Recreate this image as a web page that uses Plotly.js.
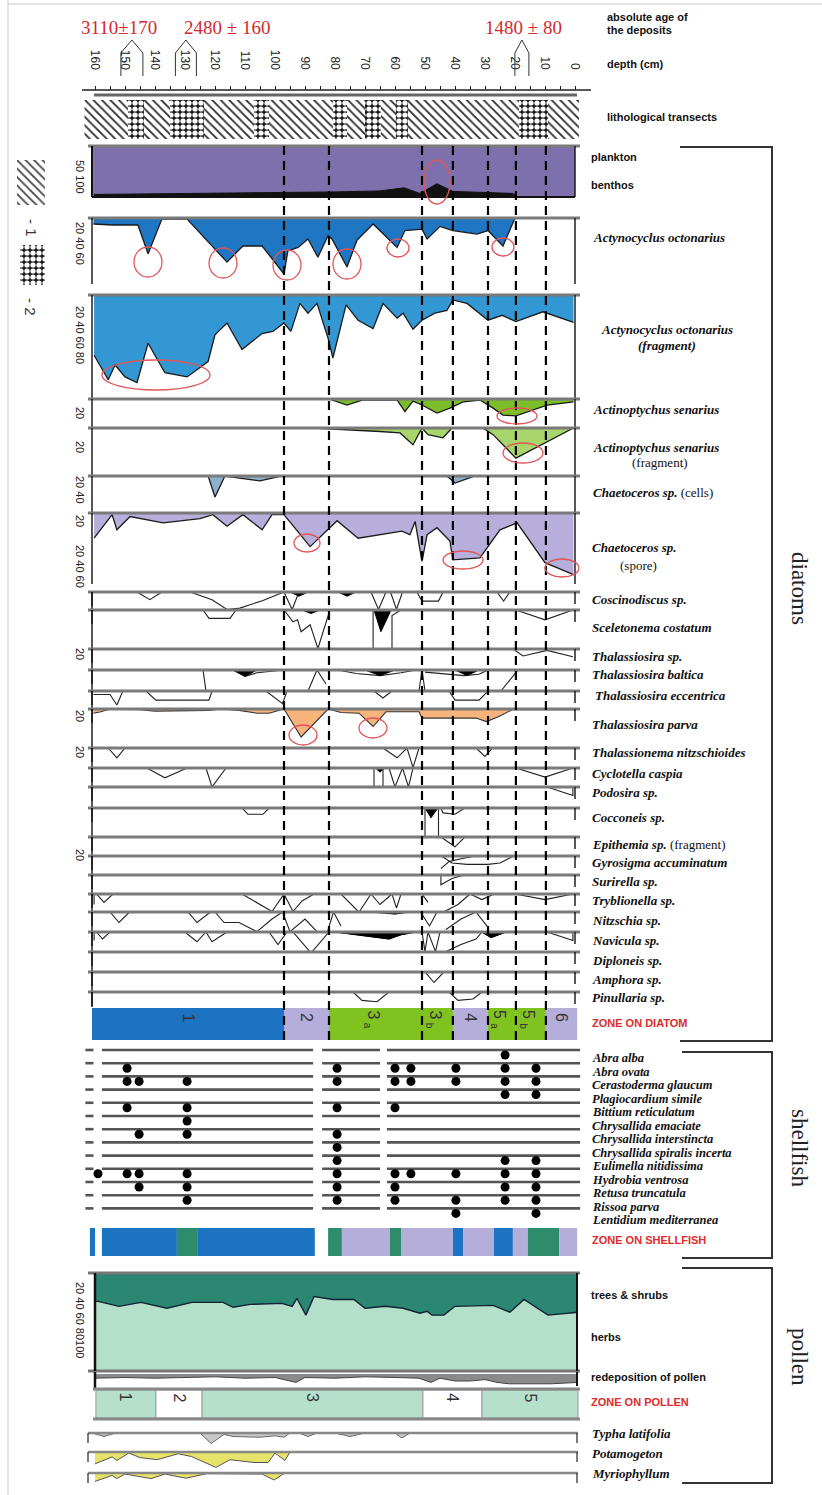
<!DOCTYPE html>
<html><head><meta charset="utf-8">
<script src="https://cdn.plot.ly/plotly-3.0.1.min.js"></script>
<style>html,body{margin:0;padding:0;background:#fff}#chart{width:822px;height:1495px}</style>
</head><body><div id="chart"></div>
<script>
// ================= DATA =================
const depthLabels = [160,150,140,130,120,110,100,90,80,70,60,50,40,30,20,10,0];
const depthMinor = [155,145,135,125,115,105,95,85,75,65,55,45,35,25,15,5];
const ageLabels = ['3110±170','2480 ± 160','1480 ± 80'];
const ageDepths = [147.7, 129.7, 17.7];
const lithoStart = [163.5];
const lithoEnd = [-1.3];
const gravelStart = [149, 135, 107, 80.7, 70, 59.7, 18.7];
const gravelEnd = [143.7, 123.7, 102, 76, 64.7, 55.7, 9];

const benthos_d = [160.5,145,131.7,115,98,80,65,57,51.7,46,40.7,31.7,20.7,19.3,0];
const benthos_v = [5,6,7,7,8,10,12,18,7,26,11,9,7,0,0];

const actyn_d = [160.5,154,145.7,142.3,137.7,129.3,116,110.7,104.3,97,95.7,92.3,89,85.7,82.3,81,76,72.7,67.3,59.3,56.7,51,49.3,45,40.7,32.7,29,24,20];
const actyn_v = [8.6,10,10,51,1.5,1.5,63,40,40,80,47,42,30,56,25,30,70,32,8.6,42,18,16,30,12,18,23,18,40,0];

const actynF_d = [160.3,155.6,153.3,150,146,142.3,136.7,129.3,122.3,120,116,111,104.3,100.7,97,94.7,91.7,89,86,82.3,80.7,76.3,72.3,67.3,64,59.3,57.3,54,51,46.7,42.7,40.7,36,29,24.3,19.7,10.7,0.5];
const actynF_v = [86,121,100,117,125,69,111,117,95,57,40,78,55,52,40,52,12,26,12,62,90,14,36,48,12,33,26,49,36,26,22,7,12,36,29,38,24,39];

const actSen_d = [82,76,70.7,59.3,56.7,54,51,46,41.7,37.3,31.7,27.3,24,19.7,9.3,0.5];
const actSen_v = [0,8.6,1.4,1.4,18,3,8.6,20,13,4,1.4,13,23,24,8.6,4];

const actSenF_d = [87.3,82,65,58.3,54,51,49,44,41,30.7,27.3,19.7,0.5];
const actSenF_v = [0,1,5,7,24,0,9.5,14,0,0,9.5,43,0];

const chaetC_d = [122.3,120,116.7,112,105,98,42.7,40,34];
const chaetC_v = [0,30,0,3,7,0,0,10,1];

const chaetS_d = [160.3,154.3,152.7,148.3,137.3,125,120.7,116,110.7,104.3,101,97,88.3,82.3,79.3,72.3,65,57.7,55,53.3,51,49.3,46,41.7,40.7,31.7,25,19.3,10,0.5];
const chaetS_v = [36,2.4,24,5,14,8,2.4,19,2.4,24,2.4,2.4,48,24,11,36,31,26,31,12,69,31,21,40,67,64,24,14,71,88];

const cosc_d = [146,141.7,137.7,null,128.3,121,116,111.7,104,97,94.3,92,null,68,65.5,63,61.5,59.5,57.5,null,52.7,51,45.5,44,null,26,23.8,21.7];
const cosc_v = [0,11,0,null,0,11,25,23,12,0,25,0,null,0,25,0,0,25,0,null,0,13,13,0,null,0,13,0];
const cosc_bd = [95,92,89,null,79,76,73];
const cosc_bv = [0,6,0,null,0,6,0];

const scel_d = [124,122,115,113,null,97,94,92.5,91.3,88.3,85.7,81.7,null,67.3,67.3,null,61,61,58,null,19.7,10,0.7];
const scel_v = [0,12,12,0,null,0,17,14,31,21,55,0,null,0,55,null,55,8,0,null,0,14,0];
const scel_bd = [91,88,85,null,67,64.7,61.3];
const scel_bv = [0,5,0,null,0,31,0];

const thsp_d = [20.7,17.3,9.3,0.7];
const thsp_v = [0,10,2,11];

const thba_d = [124,123,null,114,110,106,100,97,null,89,86,83,null,79,73,65,58,53,null,52,51,50,null,50,43,37,32,29,null,24.7,20.7,19];
const thba_v = [0,30,null,0,9,4,2,0,null,30,0,20,null,0,5,8,4,0,null,30,0,30,null,3,6,8,6,0,null,30,8,0];
const thba_bd = [114,110,106,null,70,65,60,null,40,36,32];
const thba_bv = [0,9,0,null,0,8,0,null,0,8,0];

const thec_d = [160.5,155,152.7,150.7,null,143,139.7,122,121,null,103,97.5,96,null,67,64,61,null,42,40,32,29];
const thec_v = [5,5,20,0,null,0,13,13,0,null,0,18,0,null,0,10,0,null,0,13,13,0];

const thpa_d = [160.5,158,155,145,140,130,122,118,112,106,102,97,91.3,82.3,78,72,67.3,63,58,52,51,45,40,33,29.5,25,21,15,5,0];
const thpa_v = [6,4,0,1,3,3,2,0,2,6,6,0,40,0,5,6,25,4,4,4,13,13,13,13,18,10,1,1,1,1];

const thne_d = [155.6,152.7,150,null,64,59.3,56,54,52,null,33,30,27.5];
const thne_v = [0,14,0,null,0,14,0,28,0,null,0,12,0];

const cycl_d = [142.7,136.7,129.3,null,123,121,116.3,null,67,67,null,64,64,null,62,60,57.5,55.5,54,null,19.7,10,0.7];
const cycl_v = [0,14,0,null,0,27,0,null,0,27,null,0,27,null,0,27,0,27,0,null,0,13,0];
const cycl_bd = [66.5,65,63.5];
const cycl_bv = [0,6,0];

const podo_d = [9.3,0.7,0.7,9.3];
const podo_v = [0,12,0,0];

const cocc_d = [111,109,104,102,null,50,50,null,45.5,45.5,null,44.7,44,40,36.7];
const cocc_v = [0,9,9,0,null,0,41,null,41,0,null,0,7,9,0];
const cocc_bd = [50,48,45.7];
const cocc_bv = [0,14,0];

const epit_d = [44.7,40,36.7];
const epit_v = [0,14,0];

const gyro_d = [44.7,42,38,33,null,44.5,41,36,29,25,20.5];
const gyro_v = [18,8,4,0,null,0,10,12,12,10,0];

const suri_d = [44.7,44.7,41,37];
const suri_v = [0,14,5,0];

const tryb_d = [160.3,160.3,null,159.5,157,154,null,111,106,101,97,94,91,87,null,78,72,68,65,61,59.5,58,56,null,51,49,null,43.5,39,35,31,27,null,20,10,0.7];
const tryb_v = [0,15,null,0,12,0,null,0,12,25,0,25,10,0,null,0,26,0,15,0,20,0,0,null,0,12,null,25,15,0,8,0,null,0,8,0];

const nitz_d = [155,152,148.5,null,129,126,121.5,120,117,112,106,101,97.5,95,90,86,null,82.5,80.5,78,null,51.5,48.5,46,null,43,38,33,29];
const nitz_v = [0,15,0,null,0,15,0,0,15,15,28,10,0,28,10,28,null,28,0,20,null,0,20,0,null,25,10,0,22];
const nitz_bd = [68,60,55];
const nitz_bv = [0,3,0];

const navi_d = [160.3,160.3,null,159.5,157.5,155,null,130,126,123,121,116,null,102,99,96,94,88,82,null,80,70,62,58,53,null,51,50,49,46.5,45,null,43,38,33,31,28,23,null,9.3,0.7,0.7];
const navi_v = [0,12,null,0,10,0,null,0,14,0,14,0,null,0,18,0,0,30,0,null,0,5,10,4,0,null,0,28,0,28,0,null,28,18,10,0,8,0,null,0,12,0];
const navi_bd = [80,70,62,58,53,null,31,28,23];
const navi_bv = [0,5,10,4,0,null,0,8,0];

const dipl_d = [];
const dipl_v = [];

const amph_d = [50,47,43.7];
const amph_v = [0,15,0];

const pinu_d = [74,71,66,62,null,42,39,34,31];
const pinu_v = [0,12,14,0,null,0,12,10,0];

const diatomZoneBounds = [161,97,82,51,40.7,29,19.7,9.7,-0.7];
const diatomZoneLabels = ['1','2','3a','3b','4','5a','5b','6'];
const diatomZoneClass = ['A','B','C','C','B','C','C','B'];
const diatomZoneLines = [97,82,51,40.7,29,19.7,9.7];

const shellSpecies = ['Abra alba','Abra ovata','Cerastoderma glaucum','Plagiocardium simile','Bittium reticulatum','Chrysallida emaciate','Chrysallida interstincta','Chrysallida spiralis incerta','Eulimella nitidissima','Hydrobia ventrosa','Retusa truncatula','Rissoa parva','Lentidium mediterranea'];
const shellDots = [
  [23.3],
  [149.3,79.3,60,54.7,39.7,23.3,13],
  [149.3,145.3,129.3,79.3,60,54.7,39.7,23.3,13],
  [23.3,13],
  [149.3,129.3,79.3,60],
  [129.3],
  [145.3,129.3,79.3],
  [79.3],
  [79.3,23.3,13],
  [159,149.3,145.3,129.3,79.3,60,54.7,39.7,23.3,13],
  [145.3,129.3,79.3,60,23.3,13],
  [129.3,79.3,60,39.7,23.3,13],
  [39.7,13]
];
const shellZoneBounds = [161.7,160,157.7,132.7,125.7,86.7,82.3,77.7,61.7,58,40.7,37.3,27,20.7,15.7,5.3,-0.7];
const shellZoneClass = ['A','-','A','G','A','-','G','B','G','B','A','B','A','B','G','B'];

const trees_d = [159.7,159,152,144.7,136,127.7,117.3,114,108.3,97.7,94.3,92.7,89.7,87,80.7,73.7,70,63.3,57.3,51.7,49.3,47.7,43.7,40,27.3,21.7,17,9,-1];
const trees_v = [29,29,34,30,36,30,30,35,32,31,34,26,43,24,27,27,36,34,36,41,39,43,43,34,33,40,27,43,40];
const herbsTotal = 100;

const redep_d = [160,150,140,130,120,110,100,93,90,80,70,60,52,48,45,40,35,30,26,22,15,8,-1];
const redep_v = [6,5,6,5,4,6,5,12,5,6,4,5,6,12,6,10,10,8,12,14,14,14,12];

const pollenZoneBounds = [159.7,139.7,124.3,50.7,31,-1];
const pollenZoneLabels = ['1','2','3','4','5'];
const pollenZoneClass = ['M','W','M','W','M'];

const typha_d = [161,157,153,125,121.3,117,114,105,100,97,95,92,89,86,80,75,70,60,57.7,55,0];
const typha_v = [0,5,0,0,15,2,5,6,4,6,0,0,5,0,0,5,0,0,7,0,0];
const potamo_d = [160,154.3,152.7,148.7,145,139.3,132.3,127.8,119.7,115,107,102.3,100,96.7,95];
const potamo_v = [17,7,12,1.5,8,11,2.5,6.5,22,11,15,15,1.5,12,0];
const myrio_d = [160,154.3,152.7,150,141.3,136.7,129.7,122.7,104.3,100.3,96.7];
const myrio_v = [12,3.5,8,1.5,8,1.5,7.4,1,1.5,10,0];

// ================= LAYOUT / DRAWING =================
const W = 822, H = 1495;
const X = x => x / W;
const Y = y => 1 - y / H;
const dx = d => 575 - 3 * d;
const SANS = 'Liberation Sans, Arial, sans-serif';
const SERIF = 'Liberation Serif, Times New Roman, serif';
const PXU = 0.7; // pixels per unit for diatom panels

const traces = [], shapes = [], ann = [];
const layout = {
  width: W, height: H, margin: {l:0, r:0, t:0, b:0},
  paper_bgcolor: '#fff', plot_bgcolor: 'rgba(0,0,0,0)',
  showlegend: false, barmode: 'overlay',
  xaxis: {
    domain: [0,1], range: [575/3, (575-W)/3], anchor: 'free', position: Y(90), side: 'top',
    tickmode: 'array',
    tickvals: depthLabels,
    ticktext: depthLabels.map(String),
    minor: {tickmode: 'array', tickvals: depthMinor, ticks: 'outside', ticklen: 4, tickcolor: '#222', showgrid: false},
    tickangle: 90, ticks: 'outside', ticklen: 4, tickcolor: '#222', tickwidth: 1,
    ticklabelstandoff: 12,
    tickfont: {family: SANS, size: 12, color: '#222'},
    showline: false, showgrid: false, zeroline: false, fixedrange: true
  },
  yaxis: {domain: [Y(139), Y(100)], range: [0,1], visible: false, anchor: 'free', position: 0, fixedrange: true}
};

let axCount = 1;
function addAxis(top, bottom, range) {
  axCount++;
  layout['yaxis' + axCount] = {domain: [Y(bottom), Y(top)], range: range, anchor: 'free', position: 0,
    visible: false, showgrid: false, zeroline: false, fixedrange: true};
  return 'y' + axCount;
}
function hline(y, x0, x1, color, width, dash) {
  shapes.push({type:'line', xref:'paper', yref:'paper', x0:X(x0), x1:X(x1), y0:Y(y), y1:Y(y),
    line:{color:color, width:width, dash:dash||'solid'}, layer:'above'});
}
function vline(x, y0, y1, color, width, dash) {
  shapes.push({type:'line', xref:'paper', yref:'paper', x0:X(x), x1:X(x), y0:Y(y0), y1:Y(y1),
    line:{color:color, width:width, dash:dash||'solid'}, layer:'above'});
}
function poly(pts, color, width, closed) {
  let p = pts.map((q,i) => (i ? 'L' : 'M') + X(q[0]).toFixed(5) + ',' + Y(q[1]).toFixed(5)).join(' ');
  if (closed) p += ' Z';
  shapes.push({type:'path', xref:'paper', yref:'paper', path:p, line:{color:color, width:width}, layer:'above'});
}
function ell(cx, cy, rx, ry) {
  shapes.push({type:'circle', xref:'paper', yref:'paper', x0:X(cx-rx), x1:X(cx+rx), y0:Y(cy+ry), y1:Y(cy-ry),
    line:{color:'#e0555a', width:1.3}, layer:'above'});
}
function text(str, x, y, o) {
  ann.push(Object.assign({xref:'paper', yref:'paper', x:X(x), y:Y(y), text:str, showarrow:false,
    xanchor:'left', yanchor:'middle', font:{family:SANS, size:11, color:'#111'}}, o || {}));
}
function area(yax, d, v, fillc, lc, lw, fillmode) {
  traces.push({type:'scatter', mode:'lines', x:d, y:v, xaxis:'x', yaxis:yax,
    fill: fillmode || (fillc ? 'tozeroy' : 'none'), fillcolor: fillc || 'rgba(0,0,0,0)',
    line:{color: lc || '#111', width: lw == null ? 1.2 : lw}, connectgaps:false, hoverinfo:'skip'});
}

// ---------- header ----------
const ageBoxHalf = [11, 10.5, 7];
const ageTextX = [119, 227, 523];
ageDepths.forEach((d, i) => {
  const cx = dx(d), hw = ageBoxHalf[i];
  poly([[cx-hw,76],[cx-hw,53],[cx,40],[cx+hw,53],[cx+hw,76]], '#333', 1, false);
  text(ageLabels[i], ageTextX[i], 28, {xanchor:'center', font:{family:SERIF, size:19, color:'#d42a2f'}});
});
text('<b>absolute age of</b>', 605, 17);
text('<b>the deposits</b>', 605, 30);
text('<b>depth (cm)</b>', 605, 64);
text('<b>lithological transects</b>', 605, 117);
hline(90, 82, 591, '#222', 1.3);
hline(95, 94, 577, '#666', 3);

// lithology bars (patterned)
traces.push({type:'bar', orientation:'h', y:[0.5], base:lithoStart, x:lithoEnd.map((e,i)=>e-lithoStart[i]), width:1,
  xaxis:'x', yaxis:'y', marker:{color:'#fff', line:{width:0},
  pattern:{shape:'\\', fgcolor:'#2a2a2a', bgcolor:'#fff', size:6, solidity:0.3}}, hoverinfo:'skip'});
traces.push({type:'bar', orientation:'h', y:gravelStart.map(()=>0.5), base:gravelStart, x:gravelEnd.map((e,i)=>e-gravelStart[i]), width:1,
  xaxis:'x', yaxis:'y', marker:{color:'#222', line:{width:0},
  pattern:{shape:'.', fgcolor:'#fff', bgcolor:'#1a1a1a', size:6, solidity:0.6}}, hoverinfo:'skip'});

// legend boxes
const yLeg = addAxis(160, 285, [125, 0]);
traces.push({type:'bar', orientation:'h', y:[22.5], base:[186], x:[-9.3], width:[45], xaxis:'x', yaxis:yLeg,
  marker:{color:'#fff', line:{width:0}, pattern:{shape:'\\', fgcolor:'#444', bgcolor:'#fff', size:6, solidity:0.3}}, hoverinfo:'skip'});
traces.push({type:'bar', orientation:'h', y:[105], base:[185], x:[-8.3], width:[40], xaxis:'x', yaxis:yLeg,
  marker:{color:'#222', line:{width:0}, pattern:{shape:'.', fgcolor:'#fff', bgcolor:'#1a1a1a', size:6, solidity:0.6}}, hoverinfo:'skip'});
text('- 1', 31, 228, {xanchor:'center', textangle:90, font:{family:SANS, size:15, color:'#333'}});
text('- 2', 31, 307, {xanchor:'center', textangle:90, font:{family:SANS, size:15, color:'#333'}});

// frame
vline(8, 0, 1495, '#c8c8c8', 1);
hline(4, 8, 822, '#c8c8c8', 1);

// ---------- diatom panels ----------
function panelFrame(top, bottom, full) {
  hline(top, 88, 580, '#7a7a7a', 3);
  vline(92, top, bottom, '#111', 1.4);
  vline(575, top, full ? bottom : Math.min(bottom, top + 12), '#111', 1.4);
}

// plankton / benthos
const yPl = addAxis(146, 197, [100, 0]);
area(yPl, benthos_d, benthos_d.map(() => 100), '#111', '#111', 0.5);
area(yPl, benthos_d, benthos_v.map(v => 100 - v), '#7d70ac', '#111', 1);
panelFrame(146, 197, true);
hline(197, 92, 575, '#111', 2);
vline(92, 146, 197, '#111', 2);

const filled = [
  {d:actyn_d, v:actyn_v, top:218, bottom:284, c:'#1f76c2'},
  {d:actynF_d, v:actynF_v, top:295, bottom:398, c:'#3397d3'},
  {d:actSen_d, v:actSen_v, top:399, bottom:427, c:'#7cbd2a'},
  {d:actSenF_d, v:actSenF_v, top:428, bottom:475, c:'#a8d66c'},
  {d:chaetC_d, v:chaetC_v, top:476, bottom:512, c:'#8db1cb'},
  {d:chaetS_d, v:chaetS_v, top:513, bottom:584, c:'#b7aedc'}
];
filled.forEach(p => {
  const ya = addAxis(p.top, p.bottom, [(p.bottom - p.top) / PXU, 0]);
  area(ya, p.d, p.v, p.c, '#1a1a1a', 1.3);
  panelFrame(p.top, p.bottom, true);
});

const linePanels = [
  {d:cosc_d, v:cosc_v, bd:cosc_bd, bv:cosc_bv, top:592, bottom:610},
  {d:scel_d, v:scel_v, bd:scel_bd, bv:scel_bv, top:610, bottom:649},
  {d:thsp_d, v:thsp_v, top:649, bottom:670},
  {d:thba_d, v:thba_v, bd:thba_bd, bv:thba_bv, top:670, bottom:691},
  {d:thec_d, v:thec_v, top:691, bottom:709},
  {d:thpa_d, v:thpa_v, top:709, bottom:748, fill:'#f6b37c'},
  {d:thne_d, v:thne_v, top:748, bottom:768},
  {d:cycl_d, v:cycl_v, bd:cycl_bd, bv:cycl_bv, top:768, bottom:787},
  {d:podo_d, v:podo_v, top:787, bottom:808},
  {d:cocc_d, v:cocc_v, bd:cocc_bd, bv:cocc_bv, top:808, bottom:837},
  {d:epit_d, v:epit_v, top:837, bottom:856},
  {d:gyro_d, v:gyro_v, top:856, bottom:875},
  {d:suri_d, v:suri_v, top:875, bottom:894},
  {d:tryb_d, v:tryb_v, top:894, bottom:912},
  {d:nitz_d, v:nitz_v, bd:nitz_bd, bv:nitz_bv, top:912, bottom:932},
  {d:navi_d, v:navi_v, bd:navi_bd, bv:navi_bv, top:932, bottom:952},
  {d:dipl_d, v:dipl_v, top:952, bottom:972},
  {d:amph_d, v:amph_v, top:972, bottom:992},
  {d:pinu_d, v:pinu_v, top:992, bottom:1007}
];
linePanels.forEach(p => {
  const ya = addAxis(p.top, p.bottom, [(p.bottom - p.top) / PXU, 0]);
  if (p.fill) area(ya, p.d, p.v, p.fill, '#333', 1.1);
  else if (p.d.length) area(ya, p.d, p.v, null, '#222', 1.1);
  if (p.bd) area(ya, p.bd, p.bv, '#000', '#000', 1);
  panelFrame(p.top, p.bottom, false);
  vline(92, p.top, Math.min(p.bottom, p.top + 14), '#111', 1.4);
});

// diatom zone bar
const yDZ = addAxis(1008, 1040, [1, 0]);
const zoneColor = {A:'#1b73c2', B:'#b5aedb', C:'#80c21f', G:'#2e8b6b', M:'#b6e0cb', W:'#ffffff', '-':'#ffffff'};
traces.push({type:'bar', orientation:'h', xaxis:'x', yaxis:yDZ,
  y: diatomZoneLabels.map(() => 0.5), width: 1,
  base: diatomZoneBounds.slice(0, -1),
  x: diatomZoneBounds.slice(1).map((b, i) => b - diatomZoneBounds[i]),
  marker: {color: diatomZoneClass.map(c => zoneColor[c]), line:{width:0}}, hoverinfo:'skip'});
diatomZoneLabels.forEach((l, i) => {
  const mid = (diatomZoneBounds[i] + diatomZoneBounds[i+1]) / 2;
  const main = l.charAt(0), suf = l.slice(1);
  ann.push({xref:'x', yref:'paper', x: suf ? mid + 0.8 : mid, y:Y(suf ? 1021 : 1024),
    text:main, showarrow:false, textangle:90, font:{family:SANS, size:16, color:'#333'}});
  if (suf) {
    ann.push({xref:'x', yref:'paper', x: mid + 2.4, y:Y(1031),
      text:suf, showarrow:false, textangle:90, font:{family:SANS, size:10, color:'#333'}});
  }
});

// dashed zone boundaries
diatomZoneLines.forEach(d => {
  shapes.push({type:'line', xref:'x', yref:'paper', x0:d, x1:d, y0:Y(146), y1:Y(1040),
    line:{color:'#000', width:2.2, dash:'9px,6px'}, layer:'above'});
});

// red circles
[[437,182,13,22],[148,262,14,15],[223,263,14,15],[287,265,14,15],[347,264,14,15],[398,248,11,9],[503,247,11,9],
 [156,375,54,15],[517,416,20,8],[523,453,20,10],[307,543,13,9],[463,560,20,9],[562,568,17,9],[303,735,14,10],[373,728,14,10]]
 .forEach(c => ell(c[0], c[1], c[2], c[3]));

// left scale labels
[['50 100',177],['20 40 60',243],['20 40 60 80',335],['20',413],['20',447],['20 40',490],['20',521],['20 40 60',566],
 ['20',654],['20',716],['20',752],['20',855]]
 .forEach(t => text(t[0], 80, t[1], {xanchor:'center', textangle:90, font:{family:SANS, size:11, color:'#222'}}));

// ---------- right labels ----------
const BI = s => '<b><i>' + s + '</i></b>';
const fSerif = {family:SERIF, size:13, color:'#111'};
text('<b>plankton</b>', 589, 157);
text('<b>benthos</b>', 589, 185);
text(BI('Actynocyclus octonarius'), 591, 238, {font:fSerif});
text(BI('Actynocyclus octonarius'), 667, 330, {xanchor:'center', font:fSerif});
text(BI('(fragment)'), 667, 345, {xanchor:'center', font:fSerif});
text(BI('Actinoptychus senarius'), 591, 409, {font:fSerif});
text(BI('Actinoptychus senarius'), 591, 448, {font:fSerif});
text('(fragment)', 660, 463, {xanchor:'center', font:fSerif});
text(BI('Chaetoceros sp.') + ' (cells)', 591, 492, {font:fSerif});
text(BI('Chaetoceros sp.'), 590, 548, {font:fSerif});
text('(spore)', 638, 565, {xanchor:'center', font:fSerif});

const diatomNames = ['Coscinodiscus sp.','Sceletonema costatum','Thalassiosira sp.','Thalassiosira baltica','Thalassiosira eccentrica',
  'Thalassiosira parva','Thalassionema nitzschioides','Cyclotella caspia','Podosira sp.','Cocconeis sp.','Epithemia sp.',
  'Gyrosigma accuminatum','Surirella sp.','Tryblionella sp.','Nitzschia sp.','Navicula sp.','Diploneis sp.','Amphora sp.','Pinullaria sp.'];
const diatomNameY = [599,627,656,675,695,724,753,773,792,817,844,862,881,901,921,940,960,979,998];
diatomNames.forEach((n, i) => {
  const s = n === 'Epithemia sp.' ? BI(n) + ' (fragment)' : BI(n);
  text(s, n === 'Thalassiosira eccentrica' ? 593 : 590, diatomNameY[i], {font:fSerif});
});
text('<b>ZONE ON DIATOM</b>', 590, 1023, {font:{family:SANS, size:11, color:'#e02b2b'}});

// ---------- shellfish ----------
const yShell = addAxis(1045, 1225, [(1225-1055)/13.2, (1045-1055)/13.2]);
const shellSegs = [[163.2,160.5],[157.7,87.3],[84.3,65],[62.7,-1.7]];
shellSpecies.forEach((s, i) => {
  shellSegs.forEach(sg => {
    shapes.push({type:'line', xref:'x', yref:yShell, x0:sg[0], x1:sg[1], y0:i-0.38, y1:i-0.38,
      line:{color:'#555', width:2.6}, layer:'below'});
  });
  text(BI(s), 590, 1058 + 13.5 * i, {font:{family:SERIF, size:12.5, color:'#111'}});
});
const sx = [], sy = [];
shellDots.forEach((row, i) => row.forEach(d => { sx.push(d); sy.push(i); }));
traces.push({type:'scatter', mode:'markers', x:sx, y:sy, xaxis:'x', yaxis:yShell,
  marker:{color:'#000', size:9}, hoverinfo:'skip', cliponaxis:false});
text('<b>ZONE ON SHELLFISH</b>', 590, 1240, {font:{family:SANS, size:11, color:'#e02b2b'}});

const ySZ = addAxis(1228, 1256, [1, 0]);
traces.push({type:'bar', orientation:'h', xaxis:'x', yaxis:ySZ,
  y: shellZoneClass.map(() => 0.5), width: 1,
  base: shellZoneBounds.slice(0, -1),
  x: shellZoneBounds.slice(1).map((b, i) => b - shellZoneBounds[i]),
  marker: {color: shellZoneClass.map(c => zoneColor[c]), line:{width:0}}, hoverinfo:'skip'});

// ---------- pollen ----------
const yPo = addAxis(1273, 1371, [100, 0]);
area(yPo, trees_d, trees_d.map(() => herbsTotal), '#b4dfca', '#b4dfca', 0.5);
area(yPo, trees_d, trees_v, '#2b8772', '#123', 1.4);
hline(1273, 88, 580, '#777', 3);
hline(1371, 88, 580, '#777', 3);
vline(95, 1273, 1371, '#111', 2.5);
vline(577, 1273, 1371, '#111', 2);
text('20 40 60 80100', 80, 1320, {xanchor:'center', textangle:90, font:{family:SANS, size:11, color:'#222'}});

const yRe = addAxis(1374, 1390, [16 / PXU, 0]);
area(yRe, redep_d, redep_v, '#8a8a8a', '#444', 1);
vline(95, 1372, 1388, '#111', 2.5);
vline(577, 1372, 1386, '#111', 2);

const yPZ = addAxis(1390, 1418, [1, 0]);
traces.push({type:'bar', orientation:'h', xaxis:'x', yaxis:yPZ,
  y: pollenZoneLabels.map(() => 0.5), width: 1,
  base: pollenZoneBounds.slice(0, -1),
  x: pollenZoneBounds.slice(1).map((b, i) => b - pollenZoneBounds[i]),
  marker: {color: pollenZoneClass.map(c => zoneColor[c]), line:{width:1, color:'#999'}}, hoverinfo:'skip'});
hline(1389, 93, 580, '#888', 3);
hline(1419, 93, 580, '#888', 3);
pollenZoneLabels.forEach((l, i) => {
  ann.push({xref:'x', yref:'paper', x:(pollenZoneBounds[i] + pollenZoneBounds[i+1]) / 2, y:Y(1404),
    text:l, showarrow:false, textangle:90, font:{family:SANS, size:16, color:'#333'}});
});

const smallPollen = [
  {d:typha_d, v:typha_v, top:1433, c:'#c9c9c9', lc:'#666'},
  {d:potamo_d, v:potamo_v, top:1452, c:'#e7e36a', lc:'#555'},
  {d:myrio_d, v:myrio_v, top:1473, c:'#e7e36a', lc:'#555'}
];
smallPollen.forEach(p => {
  const ya = addAxis(p.top, p.top + 17, [17 / PXU, 0]);
  area(ya, p.d, p.v, p.c, p.lc, 1);
  hline(p.top, 88, 578, '#888', 2.5);
  vline(88, p.top, p.top + 10, '#333', 1.3);
  vline(577, p.top, p.top + 10, '#333', 1.3);
});

text('<b>trees &amp; shrubs</b>', 589, 1295);
text('<b>herbs</b>', 589, 1337);
text('<b>redeposition of pollen</b>', 589, 1377);
text('<b>ZONE ON POLLEN</b>', 589, 1402, {font:{family:SANS, size:11, color:'#e02b2b'}});
text(BI('Typha latifolia'), 590, 1433, {font:fSerif});
text(BI('Potamogeton'), 590, 1453, {font:fSerif});
text(BI('Myriophyllum'), 590, 1473, {font:fSerif});

// brackets & group titles
poly([[680,147],[772,147],[772,1041],[680,1041]], '#333', 2, false);
poly([[682,1052],[772,1052],[772,1258],[682,1258]], '#333', 2, false);
poly([[682,1268],[772,1268],[772,1483],[682,1483]], '#333', 2, false);
const fGroup = {family:SERIF, size:23, color:'#222'};
text('diatoms', 800, 588, {xanchor:'center', textangle:90, font:fGroup});
text('shellfish', 800, 1148, {xanchor:'center', textangle:90, font:fGroup});
text('pollen', 800, 1357, {xanchor:'center', textangle:90, font:fGroup});

layout.shapes = shapes;
layout.annotations = ann;
Plotly.newPlot('chart', traces, layout, {staticPlot:true, displayModeBar:false});
</script></body></html>
